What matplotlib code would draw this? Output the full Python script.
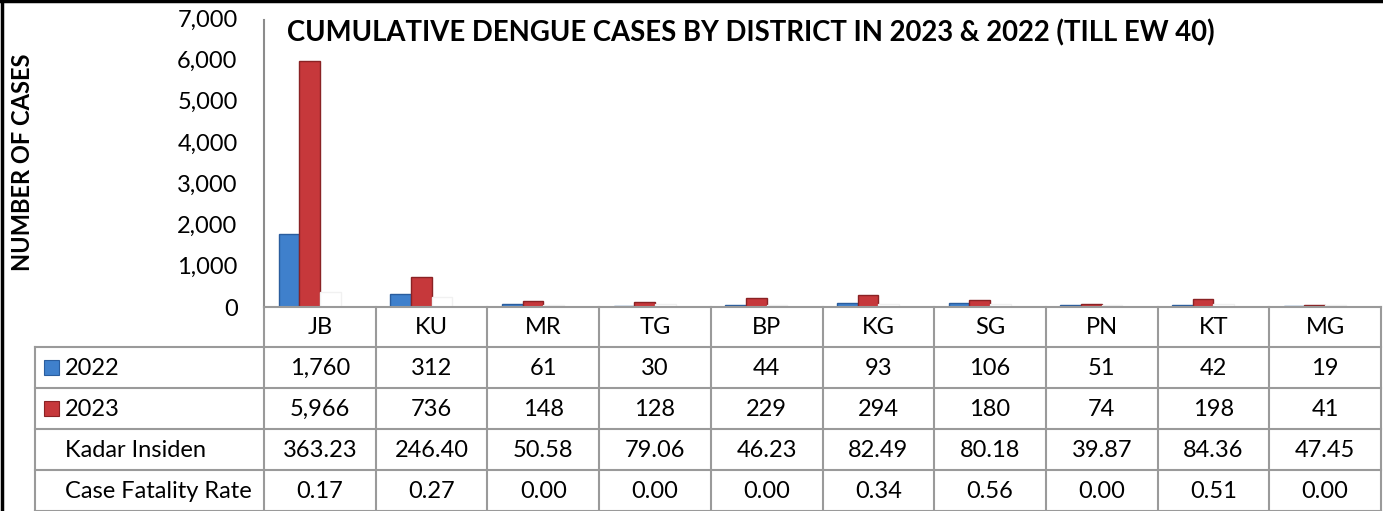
import matplotlib
matplotlib.use('Agg')
import matplotlib.pyplot as plt
from matplotlib.lines import Line2D
from matplotlib.patches import Rectangle
import numpy as np

districts = ['JB', 'KU', 'MR', 'TG', 'BP', 'KG', 'SG', 'PN', 'KT', 'MG']
cases_2022 = [1760, 312, 61, 30, 44, 93, 106, 51, 42, 19]
cases_2023 = [5966, 736, 148, 128, 229, 294, 180, 74, 198, 41]
kadar_insiden = [363.23, 246.40, 50.58, 79.06, 46.23, 82.49, 80.18, 39.87, 84.36, 47.45]
cfr = [0.17, 0.27, 0.00, 0.00, 0.00, 0.34, 0.56, 0.00, 0.51, 0.00]
row_labels = ['2022', '2023', 'Kadar Insiden', 'Case Fatality Rate']
y_ticks = [0, 1000, 2000, 3000, 4000, 5000, 6000, 7000]
title = 'CUMULATIVE DENGUE CASES BY DISTRICT IN 2023 & 2022 (TILL EW 40)'
ylabel = 'NUMBER OF CASES'

FONT = ['Lato', 'DejaVu Sans']
plt.rcParams['font.family'] = FONT

W, H = 1383, 511
fig = plt.figure(figsize=(W / 100, H / 100), dpi=100)
fig.patch.set_facecolor('white')

AX_L, AX_R, AX_T, AX_B = 264, 1381, 18, 307
ax = fig.add_axes([AX_L / W, 1 - AX_B / H, (AX_R - AX_L) / W, (AX_B - AX_T) / H])
ax.set_xlim(-0.5, len(districts) - 0.5)
ax.set_ylim(0, 7000)

BLUE, BLUE_E = '#3f80cc', '#2a5d9e'
RED, RED_E = '#c6383b', '#8a2224'

x = np.arange(len(districts))
bw = 0.185
left0 = -0.37
series = [
    (cases_2022, BLUE, BLUE_E),
    (cases_2023, RED, RED_E),
    (kadar_insiden, 'white', '#f1f1f1'),
    (cfr, 'white', '#f1f1f1'),
]
for k, (vals, fc, ec) in enumerate(series):
    ax.bar(x + left0 + k * bw, vals, width=bw, align='edge', color=fc,
           edgecolor=ec, linewidth=1.0, zorder=3)

ax.set_yticks(y_ticks)
ax.set_yticklabels([f'{v:,}' for v in y_ticks], fontsize=17)
ax.tick_params(axis='y', length=0, pad=19)
ax.set_xticks([])
for s in ['top', 'right', 'bottom']:
    ax.spines[s].set_visible(False)
ax.spines['left'].set_color('#8c8c8c')
ax.spines['left'].set_linewidth(1.5)
ax.spines['left'].set_bounds(0, 6950)

# overlay in pixel coords
ov = fig.add_axes([0, 0, 1, 1], zorder=5)
ov.set_xlim(0, W)
ov.set_ylim(H, 0)
ov.axis('off')
ov.patch.set_alpha(0)

# title
ov.text(287, 33, title, fontsize=19.8, fontweight='bold', ha='left', va='center', color='black')
# y label
ov.text(23, 162, ylabel, fontsize=17, fontweight='bold', rotation=90, ha='center', va='center')

# table
grid = '#9a9a9a'
col_w = (AX_R - AX_L) / len(districts)
row_y = [307, 347, 388, 429, 470, 511]
lab_x = 35
lw = 1.5
ov.add_line(Line2D([AX_L, AX_R], [row_y[0], row_y[0]], color=grid, lw=lw))
for yy in row_y[1:]:
    ov.add_line(Line2D([lab_x, AX_R], [yy, yy], color=grid, lw=lw))
ov.add_line(Line2D([lab_x, lab_x], [row_y[1], row_y[-1]], color=grid, lw=lw))
for i in range(len(districts) + 1):
    xx = AX_L + i * col_w
    ov.add_line(Line2D([xx, xx], [row_y[0], row_y[-1]], color=grid, lw=lw))

TS = 17
rows = [
    [f'{v:,}' for v in cases_2022],
    [f'{v:,}' for v in cases_2023],
    [f'{v:.2f}' for v in kadar_insiden],
    [f'{v:.2f}' for v in cfr],
]
for i, d in enumerate(districts):
    cx = AX_L + (i + 0.5) * col_w
    ov.text(cx, (row_y[0] + row_y[1]) / 2 + 1, d, fontsize=TS, ha='center', va='center')
    for r in range(4):
        ov.text(cx, (row_y[r + 1] + row_y[r + 2]) / 2 + 1, rows[r][i], fontsize=TS,
                ha='center', va='center')
for r, lab in enumerate(row_labels):
    cy = (row_y[r + 1] + row_y[r + 2]) / 2 + 1
    ov.text(65, cy, lab, fontsize=TS, ha='left', va='center')
for r, (fc, ec) in enumerate([(BLUE, BLUE_E), (RED, RED_E)]):
    cy = (row_y[r + 1] + row_y[r + 2]) / 2
    ov.add_patch(Rectangle((44, cy - 7.5), 15, 15, facecolor=fc, edgecolor=ec, lw=0.8))

# outer border (left and top)
ov.add_line(Line2D([1.5, 1.5], [0, H], color='black', lw=2.5))
ov.add_line(Line2D([0, W], [1.5, 1.5], color='black', lw=2.5))

fig.savefig('out.png', dpi=100)
